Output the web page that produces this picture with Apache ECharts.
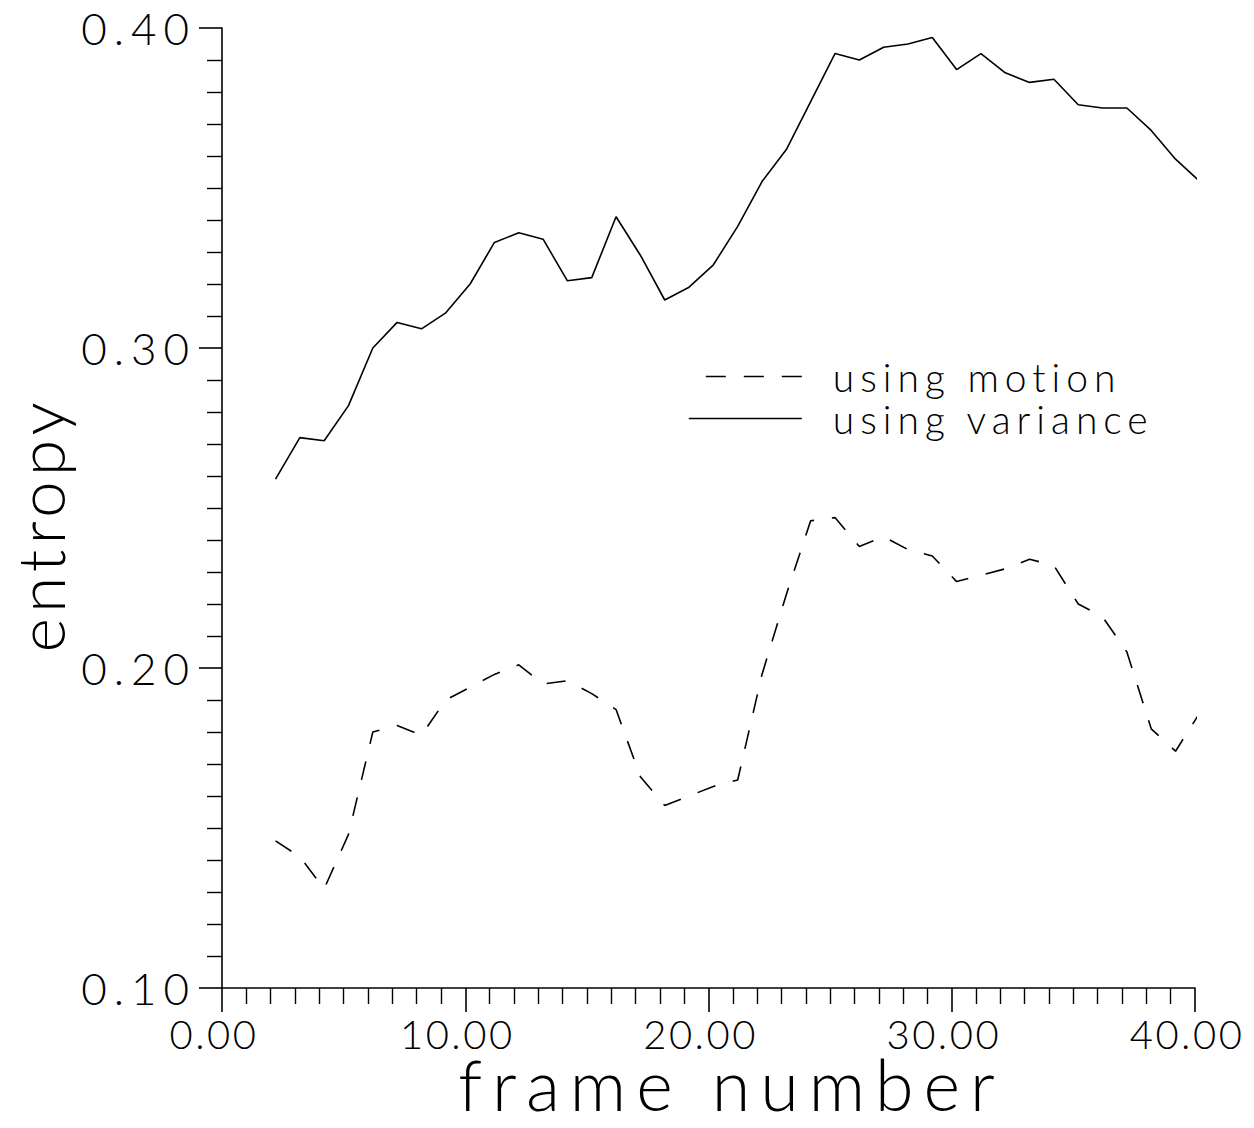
<!DOCTYPE html>
<html>
<head>
<meta charset="utf-8">
<title>entropy vs frame number</title>
<script src="https://cdn.jsdelivr.net/npm/echarts@6/dist/echarts.min.js"></script>
<style>
  html, body { margin: 0; padding: 0; width: 100%; height: 100%; overflow: hidden; background: #fff; }
  #chart { width: 100%; height: 100%; }
  /* plotter-style lettering: wide tracking on every text run */
  #chart svg text[style*="44px"] { letter-spacing: 7px; }
  #chart svg text[style*="40px"] { letter-spacing: 2.5px; }
  #chart svg text[style*="39px"] { letter-spacing: 6px; }
  #chart svg text[style*="66px"] { letter-spacing: 5px; }
  #chart svg text[style*="70px"] { letter-spacing: 10px; }
</style>
</head>
<body>
<div id="chart"></div>
<script>
// frame positions of the samples
const frames = [2.2, 3.2, 4.2, 5.2, 6.2, 7.2, 8.2, 9.2, 10.2, 11.2, 12.2, 13.2, 14.2,
  15.2, 16.2, 17.2, 18.2, 19.2, 20.2, 21.2, 22.2, 23.2, 24.2, 25.2, 26.2, 27.2,
  28.2, 29.2, 30.2, 31.2, 32.2, 33.2, 34.2, 35.2, 36.2, 37.2, 38.2, 39.2, 40.2];

// entropy measured with motion
const motion = [0.146, 0.141, 0.131, 0.148, 0.180, 0.182, 0.179, 0.190, 0.194, 0.198,
  0.201, 0.195, 0.196, 0.192, 0.187, 0.166, 0.157, 0.160, 0.163, 0.165, 0.198,
  0.223, 0.246, 0.247, 0.238, 0.241, 0.237, 0.235, 0.227, 0.229, 0.231, 0.234,
  0.232, 0.220, 0.216, 0.205, 0.181, 0.174, 0.186];

// entropy measured with variance
const variance = [0.259, 0.272, 0.271, 0.282, 0.300, 0.308, 0.306, 0.311, 0.320, 0.333,
  0.336, 0.334, 0.321, 0.322, 0.341, 0.329, 0.315, 0.319, 0.326, 0.338, 0.352,
  0.362, 0.377, 0.392, 0.390, 0.394, 0.395, 0.397, 0.387, 0.392, 0.386, 0.383,
  0.384, 0.376, 0.375, 0.375, 0.368, 0.359, 0.352];

const seriesNames = ['using motion', 'using variance'];

const FONT = 'Lato, Roboto, "DejaVu Sans", sans-serif';
const WEIGHT = 300;
const INK = '#000';

const chart = echarts.init(document.getElementById('chart'), null, { renderer: 'svg' });

const axisCommon = {
  axisLine: { show: true, onZero: false, lineStyle: { color: INK, width: 1.6 } },
  axisTick: { show: true, inside: false, lineStyle: { color: INK, width: 1.6 } },
  minorTick: { show: true, splitNumber: 10, lineStyle: { color: INK, width: 1.4 } },
  splitLine: { show: false },
  minorSplitLine: { show: false }
};

const legendText = {
  color: INK, fontFamily: FONT, fontWeight: WEIGHT, fontSize: 39, padding: [0, 0, 0, 26]
};

chart.setOption({
  backgroundColor: '#fff',
  animation: false,
  grid: {
    left: 222, right: 59, top: 28, bottom: 140,
    containLabel: false, outerBoundsMode: 'none'
  },
  xAxis: Object.assign({}, axisCommon, {
    type: 'value',
    min: 0, max: 40, interval: 10,
    axisTick: Object.assign({}, axisCommon.axisTick, { length: 24 }),
    minorTick: Object.assign({}, axisCommon.minorTick, { length: 16 }),
    axisLabel: {
      margin: 26, color: INK, fontFamily: FONT, fontWeight: WEIGHT, fontSize: 40,
      padding: [0, 16, 0, 0],
      formatter: v => v.toFixed(2)
    },
    name: 'frame number',
    nameLocation: 'middle',
    nameGap: 66,
    nameMoveOverlap: false,
    nameTextStyle: {
      color: INK, fontFamily: FONT, fontWeight: WEIGHT, fontSize: 70, lineHeight: 60,
      padding: [0, 0, 0, 46]
    }
  }),
  yAxis: Object.assign({}, axisCommon, {
    type: 'value',
    min: 0.1, max: 0.4, interval: 0.1,
    axisTick: Object.assign({}, axisCommon.axisTick, { length: 23 }),
    minorTick: Object.assign({}, axisCommon.minorTick, { length: 15 }),
    axisLabel: {
      margin: 26, color: INK, fontFamily: FONT, fontWeight: WEIGHT, fontSize: 44,
      formatter: v => v.toFixed(2)
    },
    name: 'entropy',
    nameLocation: 'middle',
    nameGap: 150,
    nameRotate: 90,
    nameTextStyle: {
      color: INK, fontFamily: FONT, fontWeight: WEIGHT, fontSize: 66,
      padding: [0, 34, 0, 0]
    }
  }),
  legend: [
    {
      data: [seriesNames[0]],
      left: 700, top: 352,
      itemWidth: 96, itemHeight: 20,
      selectedMode: false,
      itemStyle: { opacity: 0 },
      lineStyle: { type: [20, 18], width: 1.6 },
      textStyle: legendText
    },
    {
      data: [seriesNames[1]],
      left: 683, top: 394,
      itemWidth: 113, itemHeight: 20,
      selectedMode: false,
      itemStyle: { opacity: 0 },
      lineStyle: { width: 1.6 },
      textStyle: legendText
    }
  ],
  series: [
    {
      name: seriesNames[0],
      type: 'line',
      data: frames.map((f, i) => [f, motion[i]]),
      showSymbol: false, symbol: 'none',
      lineStyle: { color: INK, width: 1.6, type: [19, 18] },
      itemStyle: { color: INK }
    },
    {
      name: seriesNames[1],
      type: 'line',
      data: frames.map((f, i) => [f, variance[i]]),
      showSymbol: false, symbol: 'none',
      lineStyle: { color: INK, width: 1.6, type: 'solid' },
      itemStyle: { color: INK }
    }
  ]
});
</script>
</body>
</html>
